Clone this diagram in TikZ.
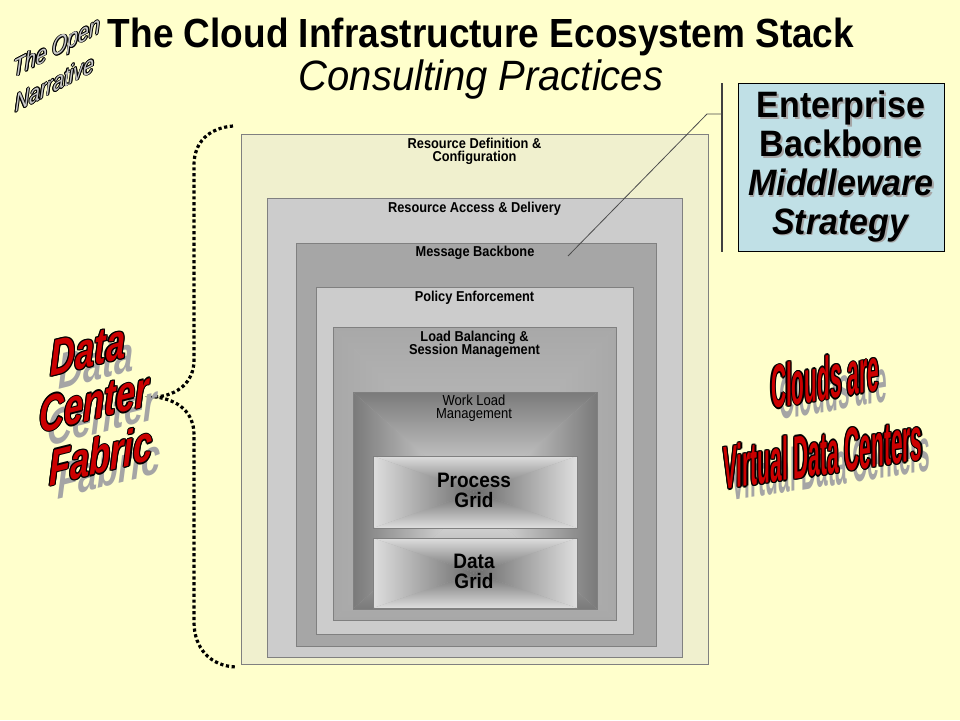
\documentclass[tikz,border=0pt]{standalone}
\usepackage{fontspec}
\setmainfont{Liberation Sans}
\usepackage{graphicx}
\definecolor{bgyellow}{RGB}{255,255,204}
\definecolor{stackA}{RGB}{240,240,206}
\definecolor{stackB}{RGB}{204,204,204}
\definecolor{stackC}{RGB}{166,166,166}
\definecolor{stackD}{RGB}{204,204,204}
\definecolor{edgegray}{RGB}{128,128,128}
\definecolor{entblue}{RGB}{192,224,230}
\definecolor{artred}{RGB}{204,0,0}
\definecolor{shadowgray}{RGB}{165,165,165}
\definecolor{wlEdge}{RGB}{122,122,122}
\definecolor{wlCenter}{RGB}{236,236,236}
\definecolor{grEdge}{RGB}{222,222,222}
\definecolor{grCenter}{RGB}{108,108,108}
\definecolor{lbEdge}{RGB}{168,168,168}
\definecolor{lbCenter}{RGB}{192,192,192}
\definecolor{narrfill}{RGB}{200,200,200}

\newcommand\rectgrad[6]{%
  \fill[#6!50!#5] (#1,#2) rectangle (#3,#4);
  \shade[top color=#5,bottom color=#6] (#1,#2) -- (#3,#2) -- ({(#1+#3)/2},{(#2+#4)/2}) -- cycle;
  \shade[top color=#6,bottom color=#5] (#1,#4) -- (#3,#4) -- ({(#1+#3)/2},{(#2+#4)/2}) -- cycle;
  \shade[left color=#5,right color=#6] (#1,#2) -- (#1,#4) -- ({(#1+#3)/2},{(#2+#4)/2}) -- cycle;
  \shade[left color=#6,right color=#5] (#3,#2) -- (#3,#4) -- ({(#1+#3)/2},{(#2+#4)/2}) -- cycle;
}
% #1 name, #2 position, #3 transform, #4 style, #5 fill colour, #6 outline width, #7 text
\newcommand\outlinetext[7]{%
  \foreach \ax/\ay in {1/0,-1/0,0/1,0/-1,0.7/0.7,-0.7/0.7,0.7/-0.7,-0.7/-0.7}
    \node[#4, text=black, xshift=\ax*#6, yshift=\ay*#6, #3] at (#2) {#7};
  \node[#4, text=#5, #3] (#1) at (#2) {#7};
}

\tikzset{
  stackbox/.style={draw=edgegray, line width=0.9pt, anchor=north west, inner sep=0pt, outer sep=0pt},
  lbl/.style={font=\bfseries\fontsize{12.8}{12}\selectfont, align=center, inner sep=0pt, yscale=1.12},
  wlbl/.style={font=\fontsize{13}{12}\selectfont, align=center, inner sep=0pt, text=black, yscale=1.12},
  gridlbl/.style={font=\bfseries\fontsize{19}{17.5}\selectfont, align=center, inner sep=0pt, yscale=1.1},
  titlefont/.style={font=\bfseries\fontsize{37}{40}\selectfont, inner sep=0pt, yscale=1.1},
  subfont/.style={font=\itshape\fontsize{40}{40}\selectfont, inner sep=0pt, yscale=1.06},
  enttext/.style={font=\bfseries\fontsize{34}{36}\selectfont, align=center, inner sep=0pt, yscale=1.08},
  dcf/.style={font=\bfseries\itshape\fontsize{46}{46}\selectfont, inner sep=0pt},
  cvd/.style={font=\bfseries\fontsize{58}{58}\selectfont, inner sep=0pt},
  narr/.style={font=\itshape\fontsize{19.5}{22}\selectfont, inner sep=0pt},
  calloutline/.style={draw=black!70, line width=0.8pt},
  barline/.style={draw=black!75, line width=1.2pt},
  dotbrace/.style={draw=black, line width=3.2pt, dash pattern=on 3.2pt off 2.6pt}
}

\begin{document}
\begin{tikzpicture}[x=1pt,y=-1pt]
\useasboundingbox (0,0) rectangle (960,720);
\fill[bgyellow] (0,0) rectangle (960,720);

% titles
\node[titlefont] (title) at (481,37) {The Cloud Infrastructure Ecosystem Stack};
\node[subfont] (subtitle) at (481,80) {Consulting Practices};

% stack of layers
\node[stackbox, fill=stackA, minimum width=467pt, minimum height=530pt] (b1) at (241,134) {};
\node[stackbox, fill=stackB, minimum width=415pt, minimum height=459pt] (b2) at (267,198) {};
\node[stackbox, fill=stackC, minimum width=360pt, minimum height=403pt] (b3) at (296,243) {};
\node[stackbox, fill=stackD, minimum width=317pt, minimum height=347pt] (b4) at (316,287) {};
\rectgrad{333}{327}{616}{620}{lbEdge}{lbCenter}
\node[stackbox, minimum width=283pt, minimum height=293pt] (b5) at (333,327) {};
\rectgrad{353}{392}{597}{609}{wlEdge}{wlCenter}
\node[stackbox, minimum width=244pt, minimum height=217pt] (b6) at (353,392) {};
\rectgrad{373}{456}{577}{528}{grEdge}{grCenter}
\node[stackbox, minimum width=204pt, minimum height=72pt] (pg) at (373,456) {};
\rectgrad{373}{538}{577}{608}{grEdge}{grCenter}
\node[stackbox, minimum width=204pt, minimum height=70pt] (dg) at (373,538) {};

% layer labels
\node[lbl] (l1) at (474.5,151.5) {Resource Definition \&\\Configuration};
\node[lbl] (l2) at (474.5,209) {Resource Access \& Delivery};
\node[lbl] (l3) at (475,253) {Message Backbone};
\node[lbl] (l4) at (474.5,298) {Policy Enforcement};
\node[lbl] (l5) at (474.5,344.5) {Load Balancing \&\\Session Management};
\node[wlbl] (l6) at (474,408.5) {Work Load\\Management};
\node[gridlbl] (l7) at (474,490.5) {Process\\Grid};
\node[gridlbl] (l8) at (474,571.5) {Data\\Grid};

% enterprise backbone box and callout
\node[draw=black, line width=0.8pt, fill=entblue, anchor=north west, inner sep=0pt,
      minimum width=206pt, minimum height=168pt] (ent) at (738,83) {};
\node[enttext, text=black!35, xshift=1.5pt, yshift=-1.5pt] at (841,166.5)
  {Enterprise\\Backbone\\\textit{Middleware}\\\textit{Strategy}};
\node[enttext] (enttxt) at (841,166.5)
  {Enterprise\\Backbone\\\textit{Middleware}\\\textit{Strategy}};
\coordinate (bartop) at (722,83);
\coordinate (barbot) at (722,252);
\coordinate (cmsg) at (568,256);
\coordinate (ckink) at (707,114);
\draw[barline] (bartop) -- (barbot);
\draw[calloutline] (cmsg) -- (ckink) -- (ckink -| bartop);

% dotted brace
\coordinate (brtop) at (233,126);
\coordinate (brtip) at (156,397);
\coordinate (brbot) at (236,667);
\draw[dotbrace] (brtop) .. controls (208,128) and (194,143) .. (194,165) -- (194,360)
  .. controls (194,382) and (178,395) .. (brtip)
  .. controls (178,400) and (194,412) .. (194,435) -- (194,622)
  .. controls (194,648) and (210,666) .. (brbot);

% The Open Narrative
\outlinetext{narr1}{57,49}{yslant=0.52, yscale=1.3}{narr}{narrfill}{0.7pt}{The Open}
\outlinetext{narr2}{55,83}{yslant=0.52, yscale=1.3}{narr}{narrfill}{0.7pt}{Narrative}

% Data Center Fabric
\node[dcf, text=shadowgray, xshift=8pt, yshift=-13pt, yslant=0.25] at (88,350) {\scalebox{0.75}[1.1]{Data}};
\node[dcf, text=shadowgray, xshift=8pt, yshift=-13pt, yslant=0.25] at (94,402) {\scalebox{0.75}[1.1]{Center}};
\node[dcf, text=shadowgray, xshift=8pt, yshift=-13pt, yslant=0.25] at (101,455) {\scalebox{0.75}[1.1]{Fabric}};
\outlinetext{dcf1}{88,350}{yslant=0.25}{dcf}{artred}{1.2pt}{\scalebox{0.75}[1.1]{Data}}
\outlinetext{dcf2}{94,402}{yslant=0.25}{dcf}{artred}{1.2pt}{\scalebox{0.75}[1.1]{Center}}
\outlinetext{dcf3}{101,455}{yslant=0.25}{dcf}{artred}{1.2pt}{\scalebox{0.75}[1.1]{Fabric}}

% Clouds are Virtual Data Centers
\node[cvd, text=shadowgray, xshift=8pt, yshift=-11pt, yslant=0.17] at (825,378) {\scalebox{0.36}[1.05]{Clouds are}};
\node[cvd, text=shadowgray, xshift=8pt, yshift=-11pt, yslant=0.15] at (823,453) {\scalebox{0.36}[1.05]{Virtual Data Centers}};
\outlinetext{cvd1}{825,378}{yslant=0.17}{cvd}{artred}{1.3pt}{\scalebox{0.36}[1.05]{Clouds are}}
\outlinetext{cvd2}{823,453}{yslant=0.15}{cvd}{artred}{1.3pt}{\scalebox{0.36}[1.05]{Virtual Data Centers}}
\end{tikzpicture}
\end{document}
